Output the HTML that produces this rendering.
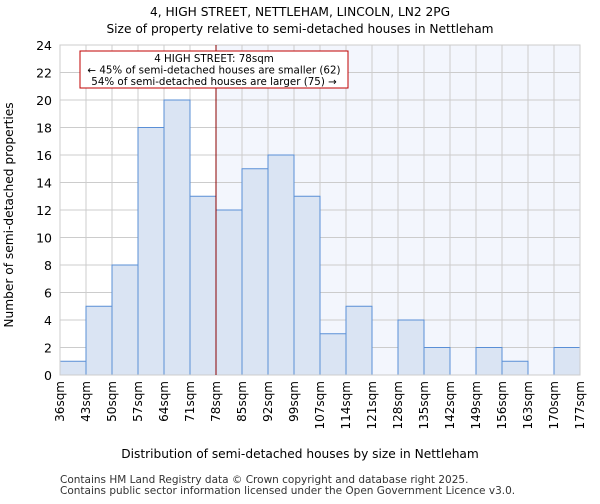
<!DOCTYPE html>
<html><head><meta charset="utf-8"><style>
body{margin:0;background:#fff;font-family:"DejaVu Sans","Liberation Sans",sans-serif}
</style></head><body>
<svg id="c" width="600" height="500" xmlns="http://www.w3.org/2000/svg" style="font-family:'DejaVu Sans','Liberation Sans',sans-serif">
<text x="300" y="16" text-anchor="middle" font-size="12.2">4, HIGH STREET, NETTLEHAM, LINCOLN, LN2 2PG</text>
<text x="300" y="33" text-anchor="middle" font-size="12.2">Size of property relative to semi-detached houses in Nettleham</text>
<g id="plot"></g>
<text x="300" y="458" text-anchor="middle" font-size="12.2">Distribution of semi-detached houses by size in Nettleham</text>
<text transform="translate(13,215) rotate(-90)" text-anchor="middle" font-size="12.2">Number of semi-detached properties</text>
<text x="60" y="483" font-size="10.5" fill="#333">Contains HM Land Registry data © Crown copyright and database right 2025.</text>
<text x="60" y="494" font-size="10.5" fill="#333">Contains public sector information licensed under the Open Government Licence v3.0.</text>
</svg>
<script>
const labels=["36sqm","43sqm","50sqm","57sqm","64sqm","71sqm","78sqm","85sqm","92sqm","99sqm","107sqm","114sqm","121sqm","128sqm","135sqm","142sqm","149sqm","156sqm","163sqm","170sqm","177sqm"];
const counts=[1,5,8,18,20,13,12,15,16,13,3,5,0,4,2,0,2,1,0,2];
const yTicks=[0,2,4,6,8,10,12,14,16,18,20,22,24];
const markerIndex=6;
const NS="http://www.w3.org/2000/svg";
const g=document.getElementById("plot");
const L=60,R=580,T=45,B=375,yMax=24;
const bw=(R-L)/counts.length;
const x=i=>L+i*bw, y=v=>B-(v/yMax)*(B-T);
function el(t,a){const e=document.createElementNS(NS,t);for(const k in a)e.setAttribute(k,a[k]);g.appendChild(e);return e;}
let e=el("rect",{x:x(markerIndex),y:T,width:R-x(markerIndex),height:B-T,fill:"#f3f6fd"});


yTicks.forEach(t=>{
 let l=el("line",{x1:L,x2:R,y1:y(t),y2:y(t),stroke:"#ccc","stroke-width":1});
 
 
 let tx=el("text",{x:L-8,y:y(t)+5,"text-anchor":"end","font-size":12.5});
 tx.textContent=t;
 
 
});
labels.forEach((s,i)=>{
 let l=el("line",{x1:x(i),x2:x(i),y1:T,y2:B,stroke:"#ccc","stroke-width":1});
 
 
 let tx=el("text",{transform:`translate(${x(i)+4},${B+6}) rotate(-90)`,"text-anchor":"end","font-size":12});
 tx.textContent=s;
 
 
});
counts.forEach((v,i)=>{
 if(v<=0)return;
 let r=el("rect",{x:x(i),y:y(v),width:bw,height:B-y(v),fill:"#dae4f3",stroke:"#5a8fd6","stroke-width":1});
 
 
});
let ax=el("rect",{x:L,y:T,width:R-L,height:B-T,fill:"none",stroke:"#ccc"});


let ml=el("line",{x1:x(markerIndex),x2:x(markerIndex),y1:T,y2:B,stroke:"#8b0000","stroke-width":1});


let bx=el("rect",{x:80,y:51,width:268,height:37,fill:"#fff",stroke:"#c00000","stroke-width":1});


["4 HIGH STREET: 78sqm","← 45% of semi-detached houses are smaller (62)","54% of semi-detached houses are larger (75) →"].forEach((s,i)=>{
 let t=el("text",{x:214,y:62+i*11.5,"text-anchor":"middle","font-size":10.3});
 t.textContent=s;
 
 
});
</script>
</body></html>
